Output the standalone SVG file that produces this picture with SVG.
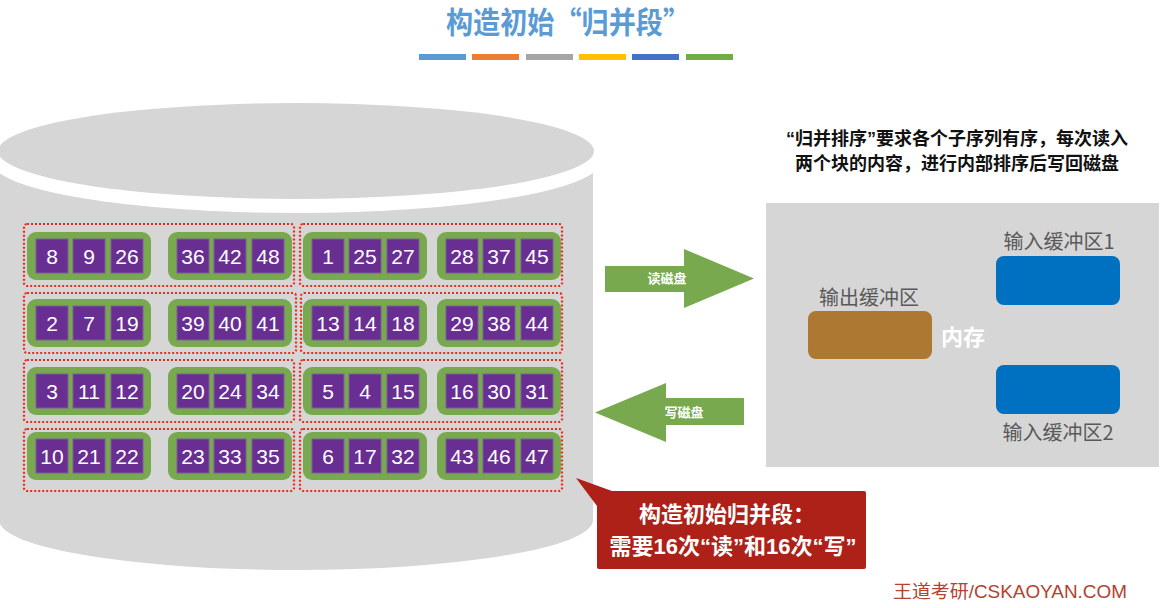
<svg xmlns="http://www.w3.org/2000/svg" width="1160" height="608" viewBox="0 0 1160 608">
<style>
.cn{font-family:"Noto Sans CJK SC","Noto Sans",sans-serif}
.q{font-family:"Liberation Sans",Arial,sans-serif}
.grp{fill:#78a94f}
.sq{fill:#692e92;stroke:#7e5aa0;stroke-width:1}
.num{font-family:"Liberation Sans",Arial,sans-serif;font-size:21px;fill:#fff;text-anchor:middle}
.dot{fill:none;stroke:#ee2a1c;stroke-width:2.2;stroke-dasharray:2 2}
.lbl{font-family:"Noto Sans CJK SC",sans-serif;font-size:20px;fill:#595959;text-anchor:middle}
.arr{fill:#78a94f}
.arrt{font-family:"Noto Sans CJK SC",sans-serif;font-size:13px;font-weight:bold;fill:#fff;text-anchor:middle}
</style>
<rect width="1160" height="608" fill="#fff"/>
<g id="title">
<text x="568" y="33" class="cn" font-size="30" font-weight="bold" fill="#5b9bd5" text-anchor="middle" textLength="244" lengthAdjust="spacingAndGlyphs">构造初始“归并段”</text>
<rect x="419" y="54" width="47" height="6" fill="#5b9bd5"/>
<rect x="472" y="54" width="47" height="6" fill="#ed7d31"/>
<rect x="526" y="54" width="47" height="6" fill="#a5a5a5"/>
<rect x="579" y="54" width="47" height="6" fill="#ffc000"/>
<rect x="632" y="54" width="47" height="6" fill="#4472c4"/>
<rect x="686" y="54" width="47" height="6" fill="#70ad47"/>
</g>
<g id="disk">
<path d="M-1,151 H593 V520 A297 50 0 0 1 -1 520 Z" fill="#d6d6d6"/>
<ellipse cx="296" cy="161" rx="305" ry="52" fill="#fff"/>
<ellipse cx="296" cy="151" rx="298" ry="48" fill="#d6d6d6"/>
</g>
<g id="runs">
<rect class="dot" x="24" y="224" width="270" height="62" rx="3"/>
<rect class="dot" x="300" y="224" width="262" height="62" rx="3"/>
<rect class="dot" x="24" y="293" width="272" height="60" rx="3"/>
<rect class="dot" x="301" y="293" width="261" height="60" rx="3"/>
<rect class="dot" x="24" y="360" width="270" height="62" rx="3"/>
<rect class="dot" x="300" y="360" width="262" height="62" rx="3"/>
<rect class="dot" x="24" y="429" width="270" height="62" rx="3"/>
<rect class="dot" x="300" y="429" width="262" height="62" rx="3"/>
</g>
<g id="row1">
<g id="b1a"><rect class="grp" x="27" y="232" width="124" height="48" rx="9"/><rect class="sq" x="36" y="239" width="32" height="34"/><rect class="sq" x="73" y="239" width="32" height="34"/><rect class="sq" x="111" y="239" width="32" height="34"/><text class="num" x="52" y="264">8</text><text class="num" x="89" y="264">9</text><text class="num" x="127" y="264">26</text></g>
<g id="b1b"><rect class="grp" x="168" y="232" width="124" height="48" rx="9"/><rect class="sq" x="177" y="239" width="32" height="34"/><rect class="sq" x="214" y="239" width="32" height="34"/><rect class="sq" x="252" y="239" width="32" height="34"/><text class="num" x="193" y="264">36</text><text class="num" x="230" y="264">42</text><text class="num" x="268" y="264">48</text></g>
<g id="b1c"><rect class="grp" x="303" y="232" width="124" height="48" rx="9"/><rect class="sq" x="312" y="239" width="32" height="34"/><rect class="sq" x="349" y="239" width="32" height="34"/><rect class="sq" x="387" y="239" width="32" height="34"/><text class="num" x="328" y="264">1</text><text class="num" x="365" y="264">25</text><text class="num" x="403" y="264">27</text></g>
<g id="b1d"><rect class="grp" x="437" y="232" width="124" height="48" rx="9"/><rect class="sq" x="446" y="239" width="32" height="34"/><rect class="sq" x="483" y="239" width="32" height="34"/><rect class="sq" x="521" y="239" width="32" height="34"/><text class="num" x="462" y="264">28</text><text class="num" x="499" y="264">37</text><text class="num" x="537" y="264">45</text></g>
</g>
<g id="row2">
<g id="b2a"><rect class="grp" x="27" y="299" width="124" height="48" rx="9"/><rect class="sq" x="36" y="306" width="32" height="34"/><rect class="sq" x="73" y="306" width="32" height="34"/><rect class="sq" x="111" y="306" width="32" height="34"/><text class="num" x="52" y="331">2</text><text class="num" x="89" y="331">7</text><text class="num" x="127" y="331">19</text></g>
<g id="b2b"><rect class="grp" x="168" y="299" width="124" height="48" rx="9"/><rect class="sq" x="177" y="306" width="32" height="34"/><rect class="sq" x="214" y="306" width="32" height="34"/><rect class="sq" x="252" y="306" width="32" height="34"/><text class="num" x="193" y="331">39</text><text class="num" x="230" y="331">40</text><text class="num" x="268" y="331">41</text></g>
<g id="b2c"><rect class="grp" x="303" y="299" width="124" height="48" rx="9"/><rect class="sq" x="312" y="306" width="32" height="34"/><rect class="sq" x="349" y="306" width="32" height="34"/><rect class="sq" x="387" y="306" width="32" height="34"/><text class="num" x="328" y="331">13</text><text class="num" x="365" y="331">14</text><text class="num" x="403" y="331">18</text></g>
<g id="b2d"><rect class="grp" x="437" y="299" width="124" height="48" rx="9"/><rect class="sq" x="446" y="306" width="32" height="34"/><rect class="sq" x="483" y="306" width="32" height="34"/><rect class="sq" x="521" y="306" width="32" height="34"/><text class="num" x="462" y="331">29</text><text class="num" x="499" y="331">38</text><text class="num" x="537" y="331">44</text></g>
</g>
<g id="row3">
<g id="b3a"><rect class="grp" x="27" y="367" width="124" height="48" rx="9"/><rect class="sq" x="36" y="374" width="32" height="34"/><rect class="sq" x="73" y="374" width="32" height="34"/><rect class="sq" x="111" y="374" width="32" height="34"/><text class="num" x="52" y="399">3</text><text class="num" x="89" y="399">11</text><text class="num" x="127" y="399">12</text></g>
<g id="b3b"><rect class="grp" x="168" y="367" width="124" height="48" rx="9"/><rect class="sq" x="177" y="374" width="32" height="34"/><rect class="sq" x="214" y="374" width="32" height="34"/><rect class="sq" x="252" y="374" width="32" height="34"/><text class="num" x="193" y="399">20</text><text class="num" x="230" y="399">24</text><text class="num" x="268" y="399">34</text></g>
<g id="b3c"><rect class="grp" x="303" y="367" width="124" height="48" rx="9"/><rect class="sq" x="312" y="374" width="32" height="34"/><rect class="sq" x="349" y="374" width="32" height="34"/><rect class="sq" x="387" y="374" width="32" height="34"/><text class="num" x="328" y="399">5</text><text class="num" x="365" y="399">4</text><text class="num" x="403" y="399">15</text></g>
<g id="b3d"><rect class="grp" x="437" y="367" width="124" height="48" rx="9"/><rect class="sq" x="446" y="374" width="32" height="34"/><rect class="sq" x="483" y="374" width="32" height="34"/><rect class="sq" x="521" y="374" width="32" height="34"/><text class="num" x="462" y="399">16</text><text class="num" x="499" y="399">30</text><text class="num" x="537" y="399">31</text></g>
</g>
<g id="row4">
<g id="b4a"><rect class="grp" x="27" y="432" width="124" height="48" rx="9"/><rect class="sq" x="36" y="439" width="32" height="34"/><rect class="sq" x="73" y="439" width="32" height="34"/><rect class="sq" x="111" y="439" width="32" height="34"/><text class="num" x="52" y="464">10</text><text class="num" x="89" y="464">21</text><text class="num" x="127" y="464">22</text></g>
<g id="b4b"><rect class="grp" x="168" y="432" width="124" height="48" rx="9"/><rect class="sq" x="177" y="439" width="32" height="34"/><rect class="sq" x="214" y="439" width="32" height="34"/><rect class="sq" x="252" y="439" width="32" height="34"/><text class="num" x="193" y="464">23</text><text class="num" x="230" y="464">33</text><text class="num" x="268" y="464">35</text></g>
<g id="b4c"><rect class="grp" x="303" y="432" width="124" height="48" rx="9"/><rect class="sq" x="312" y="439" width="32" height="34"/><rect class="sq" x="349" y="439" width="32" height="34"/><rect class="sq" x="387" y="439" width="32" height="34"/><text class="num" x="328" y="464">6</text><text class="num" x="365" y="464">17</text><text class="num" x="403" y="464">32</text></g>
<g id="b4d"><rect class="grp" x="437" y="432" width="124" height="48" rx="9"/><rect class="sq" x="446" y="439" width="32" height="34"/><rect class="sq" x="483" y="439" width="32" height="34"/><rect class="sq" x="521" y="439" width="32" height="34"/><text class="num" x="462" y="464">43</text><text class="num" x="499" y="464">46</text><text class="num" x="537" y="464">47</text></g>
</g>
<g id="note">
<text class="cn" x="957" y="145" font-size="18" font-weight="bold" fill="#111" text-anchor="middle"><tspan class="q">“</tspan>归并排序<tspan class="q">”</tspan>要求各个子序列有序，每次读入</text>
<text class="cn" x="957" y="170" font-size="18" font-weight="bold" fill="#111" text-anchor="middle">两个块的内容，进行内部排序后写回磁盘</text>
</g>
<g id="memory">
<rect x="766" y="203" width="393" height="264" fill="#d6d6d6"/>
<text x="963" y="345" class="cn" font-size="22" font-weight="bold" fill="#fff" text-anchor="middle">内存</text>
</g>
<g id="outbuf">
<rect x="808" y="311" width="124" height="48" rx="8" fill="#ad7832"/>
<text class="lbl" x="869" y="305">输出缓冲区</text>
</g>
<g id="inbuf1">
<rect x="996" y="256" width="124" height="49" rx="8" fill="#0070c0"/>
<text class="lbl" x="1059" y="249">输入缓冲区1</text>
</g>
<g id="inbuf2">
<rect x="996" y="365" width="124" height="49" rx="8" fill="#0070c0"/>
<text class="lbl" x="1058" y="440">输入缓冲区2</text>
</g>
<g id="connectors">
<g id="read">
<path class="arr" d="M605,266 H684 V249 L754,278.5 L684,308 V292 H605 Z"/>
<text class="arrt" x="667" y="283">读磁盘</text>
</g>
<g id="write">
<path class="arr" d="M744,398 H666 V383 L595,412.5 L666,442 V425 H744 Z"/>
<text class="arrt" x="684" y="417">写磁盘</text>
</g>
</g>
<g id="callout">
<path d="M576,478 L612,491 H864 Q866,491 866,493 V567 Q866,569 864,569 H599 Q597,569 597,567 V506 Z" fill="#ad2118"/>
<text class="cn" x="727" y="522" font-size="22" font-weight="bold" fill="#fff" text-anchor="middle">构造初始归并段：</text>
<text class="cn" x="733" y="554" font-size="22" font-weight="bold" fill="#fff" text-anchor="middle">需要<tspan class="q">16</tspan>次<tspan class="q">“</tspan>读<tspan class="q">”</tspan>和<tspan class="q">16</tspan>次<tspan class="q">“</tspan>写<tspan class="q">”</tspan></text>
</g>
<g id="footer">
<text x="1010" y="598" font-family="'Liberation Sans','Noto Sans CJK SC',sans-serif" font-size="18" fill="#b5412e" text-anchor="middle" textLength="234" lengthAdjust="spacingAndGlyphs">王道考研/CSKAOYAN.COM</text>
</g>
</svg>
